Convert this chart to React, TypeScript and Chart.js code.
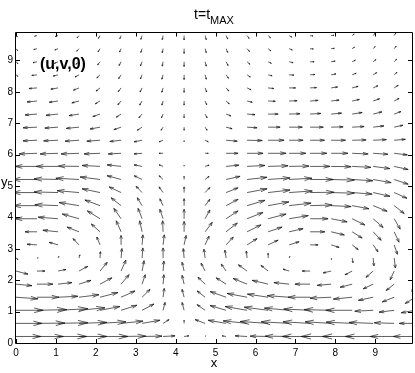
import React, { useEffect, useRef } from "react";
import { Chart, registerables } from "chart.js";

Chart.register(...registerables);

const xs = [0, 0.526, 1.053, 1.579, 2.105, 2.632, 3.158, 3.684, 4.211, 4.737, 5.263, 5.789, 6.316, 6.842, 7.368, 7.895, 8.421, 8.947, 9.474, 10];
const ys = [0.208, 0.625, 1.042, 1.458, 1.875, 2.292, 2.708, 3.125, 3.542, 3.958, 4.375, 4.792, 5.208, 5.625, 6.042, 6.458, 6.875, 7.292, 7.708, 8.125, 8.542, 8.958, 9.375, 9.792];
const xTicks = [0, 1, 2, 3, 4, 5, 6, 7, 8, 9];
const yTicks = [0, 1, 2, 3, 4, 5, 6, 7, 8, 9];

// u components, one row per y level (bottom to top)
const uRows = [
  [0.62, 0.66, 0.72, 0.70, 0.70, 0.62, 0.50, 0.30, 0.12, 0.02, -0.10, -0.30, -0.45, -0.60, -0.70, -0.75, -0.75, -0.70, -0.60, -0.55],
  [0.65, 0.70, 0.75, 0.70, 0.65, 0.55, 0.45, 0.15, 0.0, -0.25, -0.45, -0.60, -0.70, -0.70, -0.68, -0.65, -0.65, -0.60, -0.50, -0.40],
  [0.68, 0.75, 0.75, 0.65, 0.50, 0.40, 0.30, 0.05, -0.05, -0.20, -0.40, -0.55, -0.60, -0.62, -0.66, -0.68, -0.66, -0.46, -0.38, -0.35],
  [0.55, 0.55, 0.50, 0.50, 0.45, 0.35, 0.20, 0.03, -0.05, -0.20, -0.40, -0.50, -0.52, -0.55, -0.55, -0.53, -0.47, -0.37, -0.30, -0.25],
  [0.40, 0.40, 0.35, 0.30, 0.30, 0.20, 0.08, 0.02, -0.05, -0.18, -0.25, -0.35, -0.40, -0.38, -0.38, -0.35, -0.30, -0.25, -0.20, -0.08],
  [0.30, 0.20, 0.20, 0.22, 0.18, 0.12, 0.05, 0.02, -0.05, -0.10, -0.12, -0.22, -0.18, -0.15, -0.20, -0.20, -0.18, -0.18, -0.10, -0.03],
  [0.05, 0.03, 0.02, 0.02, 0.01, 0.02, 0.02, 0.0, -0.02, -0.03, -0.03, -0.02, 0.0, 0.02, 0.0, 0.01, 0.02, 0.02, 0.03, 0.05],
  [-0.15, -0.25, -0.22, -0.15, -0.08, 0.0, 0.02, 0.03, 0.05, 0.10, 0.18, 0.25, 0.25, 0.25, 0.20, 0.20, 0.15, 0.12, 0.08, 0.05],
  [-0.25, -0.30, -0.38, -0.30, -0.22, -0.12, -0.06, -0.01, 0.0, 0.18, 0.28, 0.35, 0.35, 0.35, 0.37, 0.33, 0.25, 0.20, 0.12, 0.08],
  [-0.35, -0.55, -0.50, -0.42, -0.32, -0.18, -0.10, -0.08, 0.0, 0.12, 0.30, 0.40, 0.45, 0.48, 0.45, 0.40, 0.32, 0.25, 0.15, 0.10],
  [-0.50, -0.60, -0.58, -0.50, -0.38, -0.25, -0.12, -0.08, 0.0, 0.12, 0.30, 0.45, 0.52, 0.55, 0.55, 0.50, 0.42, 0.35, 0.25, 0.18],
  [-0.60, -0.62, -0.60, -0.55, -0.45, -0.30, -0.15, -0.10, 0.0, 0.12, 0.30, 0.50, 0.55, 0.58, 0.60, 0.58, 0.50, 0.42, 0.32, 0.25],
  [-0.60, -0.62, -0.60, -0.58, -0.50, -0.35, -0.20, -0.10, 0.0, 0.10, 0.35, 0.50, 0.55, 0.57, 0.58, 0.58, 0.52, 0.45, 0.35, 0.28],
  [-0.50, -0.55, -0.55, -0.52, -0.45, -0.35, -0.20, -0.10, 0.0, 0.10, 0.32, 0.45, 0.50, 0.50, 0.50, 0.50, 0.47, 0.42, 0.35, 0.30],
  [-0.40, -0.45, -0.45, -0.45, -0.40, -0.32, -0.20, -0.10, 0.0, 0.08, 0.30, 0.40, 0.45, 0.42, 0.42, 0.42, 0.40, 0.37, 0.33, 0.30],
  [-0.30, -0.35, -0.36, -0.35, -0.33, -0.28, -0.20, -0.10, 0.0, 0.08, 0.28, 0.38, 0.40, 0.35, 0.36, 0.36, 0.35, 0.33, 0.28, 0.22],
  [-0.25, -0.35, -0.33, -0.32, -0.25, -0.18, -0.12, -0.05, 0.0, 0.05, 0.15, 0.25, 0.30, 0.33, 0.33, 0.30, 0.30, 0.27, 0.22, 0.20],
  [-0.20, -0.30, -0.30, -0.25, -0.18, -0.12, -0.08, -0.04, 0.0, 0.05, 0.12, 0.20, 0.25, 0.27, 0.27, 0.26, 0.25, 0.22, 0.17, 0.15],
  [-0.15, -0.25, -0.22, -0.18, -0.12, -0.08, -0.06, -0.03, 0.0, 0.04, 0.08, 0.13, 0.18, 0.20, 0.20, 0.20, 0.18, 0.16, 0.12, 0.10],
  [-0.10, -0.20, -0.18, -0.14, -0.10, -0.07, -0.05, -0.03, 0.0, 0.04, 0.07, 0.10, 0.14, 0.16, 0.16, 0.16, 0.15, 0.12, 0.10, 0.08],
  [0.05, -0.13, -0.12, -0.10, -0.08, -0.06, -0.04, -0.03, 0.0, 0.03, 0.06, 0.08, 0.10, 0.12, 0.12, 0.12, 0.10, 0.09, 0.07, 0.06],
  [0.05, -0.10, -0.09, -0.08, -0.06, -0.05, -0.04, -0.02, 0.0, 0.03, 0.05, 0.07, 0.08, 0.10, 0.10, 0.10, 0.08, 0.07, 0.06, 0.05],
  [0.04, -0.08, -0.08, -0.06, -0.05, -0.04, -0.03, -0.02, 0.0, 0.03, 0.04, 0.06, 0.07, 0.08, 0.08, 0.08, 0.06, 0.05, 0.05, 0.04],
  [0.04, -0.06, -0.07, -0.05, -0.04, -0.03, -0.03, -0.02, 0.0, 0.03, 0.04, 0.05, 0.06, 0.07, 0.07, 0.07, 0.05, 0.05, 0.04, 0.04],
];

// v components, one row per y level (bottom to top)
const vRows = [
  [0, 0, 0, 0, 0, 0.01, 0.01, 0.02, 0.02, 0.02, 0.02, 0.02, 0.01, 0.01, 0, 0, 0, 0, 0, 0],
  [0, 0.01, 0.02, 0.03, 0.05, 0.07, 0.10, 0.12, 0.10, 0.12, 0.10, 0.08, 0.06, 0.05, 0.05, 0.05, 0.04, 0.03, 0.02, 0],
  [0, 0.02, 0.05, 0.08, 0.12, 0.16, 0.20, 0.25, 0.25, 0.18, 0.15, 0.12, 0.10, 0.07, 0.04, 0.02, 0, -0.03, -0.06, -0.08],
  [-0.05, 0, 0.03, 0.08, 0.15, 0.20, 0.25, 0.28, 0.25, 0.20, 0.18, 0.12, 0.10, 0.05, 0, -0.03, -0.06, -0.10, -0.15, -0.20],
  [-0.05, 0, 0.05, 0.12, 0.20, 0.30, 0.30, 0.30, 0.28, 0.22, 0.20, 0.18, 0.12, 0.05, 0, -0.04, -0.10, -0.15, -0.20, -0.25],
  [-0.10, 0, 0.05, 0.15, 0.28, 0.35, 0.33, 0.32, 0.28, 0.25, 0.22, 0.20, 0.18, 0.06, 0, -0.06, -0.12, -0.20, -0.28, -0.30],
  [-0.05, 0.0, 0.05, 0.10, 0.20, 0.30, 0.32, 0.32, 0.30, 0.28, 0.25, 0.22, 0.15, 0.05, 0.0, -0.05, -0.15, -0.25, -0.32, -0.35],
  [-0.10, 0.02, 0.08, 0.20, 0.25, 0.30, 0.32, 0.32, 0.30, 0.28, 0.25, 0.20, 0.15, 0.10, 0.0, -0.08, -0.15, -0.22, -0.30, -0.30],
  [-0.05, 0.0, 0.05, 0.15, 0.25, 0.35, 0.35, 0.35, 0.33, 0.30, 0.28, 0.22, 0.15, 0.10, 0.0, -0.10, -0.20, -0.27, -0.33, -0.35],
  [-0.05, 0.0, 0.05, 0.15, 0.25, 0.33, 0.33, 0.30, 0.30, 0.28, 0.25, 0.20, 0.15, 0.10, 0.0, -0.10, -0.20, -0.28, -0.33, -0.35],
  [0, 0, 0.03, 0.10, 0.18, 0.25, 0.25, 0.22, 0.22, 0.20, 0.20, 0.17, 0.12, 0.08, 0.02, -0.03, -0.10, -0.18, -0.25, -0.28],
  [0, 0, 0.02, 0.06, 0.12, 0.18, 0.20, 0.18, 0.18, 0.16, 0.15, 0.12, 0.08, 0.05, 0.01, -0.02, -0.05, -0.12, -0.18, -0.20],
  [0, 0, 0.02, 0.04, 0.08, 0.12, 0.12, 0.12, 0.10, 0.10, 0.10, 0.07, 0.05, 0.04, 0, -0.02, -0.04, -0.10, -0.15, -0.17],
  [0, 0, 0, 0.01, 0.03, 0.05, 0.05, 0.05, 0.04, 0.04, 0.04, 0.03, 0.02, 0.01, 0, -0.01, -0.03, -0.07, -0.10, -0.10],
  [-0.02, -0.02, -0.02, -0.02, -0.02, -0.02, -0.02, 0, 0, 0, 0, 0, 0, 0, 0, 0, -0.02, -0.03, -0.05, -0.05],
  [-0.02, -0.02, -0.02, -0.03, -0.03, -0.04, -0.05, -0.05, -0.05, -0.05, -0.03, -0.01, 0, 0, 0, 0, 0.01, 0.02, 0.03, 0.04],
  [-0.02, -0.02, -0.03, -0.04, -0.06, -0.08, -0.10, -0.10, -0.10, -0.10, -0.05, -0.02, 0, 0, 0, 0.01, 0.02, 0.04, 0.06, 0.07],
  [-0.02, -0.03, -0.04, -0.05, -0.08, -0.10, -0.12, -0.12, -0.12, -0.12, -0.06, -0.02, 0, 0.01, 0.02, 0.03, 0.05, 0.07, 0.08, 0.08],
  [-0.02, -0.03, -0.04, -0.06, -0.09, -0.12, -0.13, -0.13, -0.13, -0.12, -0.09, -0.04, -0.01, 0.01, 0.02, 0.03, 0.05, 0.07, 0.08, 0.08],
  [-0.02, -0.02, -0.04, -0.07, -0.10, -0.12, -0.13, -0.14, -0.14, -0.13, -0.10, -0.06, -0.02, 0, 0.01, 0.03, 0.05, 0.07, 0.08, 0.08],
  [-0.05, -0.02, -0.04, -0.07, -0.10, -0.12, -0.13, -0.14, -0.15, -0.14, -0.11, -0.07, -0.03, -0.01, 0.01, 0.03, 0.05, 0.07, 0.08, 0.08],
  [-0.06, -0.03, -0.05, -0.08, -0.10, -0.12, -0.13, -0.14, -0.15, -0.14, -0.12, -0.08, -0.05, -0.03, 0, 0.02, 0.05, 0.07, 0.08, 0.08],
  [-0.06, -0.03, -0.04, -0.08, -0.10, -0.11, -0.12, -0.13, -0.15, -0.13, -0.12, -0.09, -0.07, -0.04, -0.01, 0.01, 0.05, 0.07, 0.08, 0.08],
  [-0.04, -0.02, -0.03, -0.07, -0.09, -0.10, -0.12, -0.13, -0.14, -0.13, -0.11, -0.09, -0.07, -0.05, -0.01, 0.01, 0.05, 0.07, 0.08, 0.08],
];

const FONT = "'Liberation Sans', Arial, Helvetica, sans-serif";

const quiverPlugin = {
  id: "quiver",
  afterDatasetsDraw(chart: any) {
    const { ctx, chartArea, scales } = chart;
    const sx = scales.x;
    const sy = scales.y;
    const px = (v: number) => sx.getPixelForValue(v);
    const py = (v: number) => sy.getPixelForValue(v);
    ctx.save();
    ctx.beginPath();
    ctx.rect(chartArea.left, chartArea.top, chartArea.right - chartArea.left, chartArea.bottom - chartArea.top);
    ctx.clip();
    ctx.strokeStyle = "#1a1a1a";
    ctx.lineWidth = 0.7;
    ctx.lineCap = "butt";
    ctx.lineJoin = "miter";
    const a = 0.33;
    const b = 0.33;
    for (let k = 0; k < ys.length; k++) {
      for (let j = 0; j < xs.length; j++) {
        const x0 = xs[j];
        const y0 = ys[k];
        const u = uRows[k][j];
        const v = vRows[k][j];
        if (u === 0 && v === 0) continue;
        const x1 = x0 + u;
        const y1 = y0 + v;
        const hx1 = x1 - a * (u + b * v);
        const hy1 = y1 - a * (v - b * u);
        const hx2 = x1 - a * (u - b * v);
        const hy2 = y1 - a * (v + b * u);
        ctx.beginPath();
        ctx.moveTo(px(x0), py(y0));
        ctx.lineTo(px(x1), py(y1));
        ctx.moveTo(px(hx1), py(hy1));
        ctx.lineTo(px(x1), py(y1));
        ctx.lineTo(px(hx2), py(hy2));
        ctx.stroke();
      }
    }
    ctx.restore();
  },
  afterDraw(chart: any) {
    const { ctx, chartArea, scales } = chart;
    const { left, right, top, bottom } = chartArea;
    ctx.save();
    ctx.strokeStyle = "#000";
    ctx.lineWidth = 1;
    ctx.beginPath();
    ctx.rect(Math.round(left) - 0.5, Math.round(top) - 0.5, Math.round(right) - Math.round(left) + 1, Math.round(bottom) - Math.round(top) + 1);
    ctx.stroke();
    const tl = 4;
    ctx.beginPath();
    for (const t of xTicks) {
      const p = Math.round(scales.x.getPixelForValue(t)) + 0.5;
      ctx.moveTo(p, bottom);
      ctx.lineTo(p, bottom - tl);
      ctx.moveTo(p, top);
      ctx.lineTo(p, top + tl);
    }
    for (const t of yTicks) {
      const p = Math.round(scales.y.getPixelForValue(t)) + 0.5;
      ctx.moveTo(left, p);
      ctx.lineTo(left + tl, p);
      ctx.moveTo(right, p);
      ctx.lineTo(right - tl, p);
    }
    ctx.stroke();
    ctx.fillStyle = "#000";
    ctx.textBaseline = "alphabetic";
    ctx.textAlign = "left";
    const mainFont = `14px ${FONT}`;
    const subFont = `11px ${FONT}`;
    ctx.font = mainFont;
    const w1 = ctx.measureText("t=t").width;
    ctx.font = subFont;
    const w2 = ctx.measureText("MAX").width;
    const cx = (left + right) / 2;
    const startX = cx - (w1 + w2) / 2;
    ctx.font = mainFont;
    ctx.fillText("t=t", startX, 19);
    ctx.font = subFont;
    ctx.fillText("MAX", startX + w1, 24);
    ctx.font = `13px ${FONT}`;
    ctx.textAlign = "center";
    ctx.fillText("x", cx, 367);
    ctx.textAlign = "left";
    ctx.fillText("y", 1, 186);
    ctx.font = `bold 16px ${FONT}`;
    ctx.fillText("(u,v,0)", 40, 69);
    ctx.restore();
  },
};

export default function App() {
  const ref = useRef<HTMLCanvasElement | null>(null);
  useEffect(() => {
    if (!ref.current) return;
    const points: { x: number; y: number }[] = [];
    for (const y of ys) for (const x of xs) points.push({ x, y });
    const chart = new Chart(ref.current, {
      type: "scatter",
      data: {
        datasets: [
          {
            data: points,
            pointRadius: 0,
            pointHoverRadius: 0,
            showLine: false,
          },
        ],
      },
      options: {
        responsive: false,
        animation: false,
        events: [],
        layout: { padding: { left: 0, right: 3, top: 32.5, bottom: 0 } },
        plugins: { legend: { display: false }, tooltip: { enabled: false }, title: { display: false } },
        scales: {
          x: {
            type: "linear",
            min: 0,
            max: 9.92,
            grid: { display: false, drawTicks: false },
            border: { display: false },
            afterBuildTicks: (s: any) => {
              s.ticks = xTicks.map((v) => ({ value: v }));
            },
            afterFit: (s: any) => {
              s.height = 30;
            },
            ticks: {
              color: "#000",
              padding: 4,
              maxRotation: 0,
              autoSkip: false,
              font: { family: FONT, size: 10 },
              callback: (v: any) => String(v),
            },
          },
          y: {
            type: "linear",
            min: 0,
            max: 9.89,
            grid: { display: false, drawTicks: false },
            border: { display: false },
            afterBuildTicks: (s: any) => {
              s.ticks = yTicks.map((v) => ({ value: v }));
            },
            afterFit: (s: any) => {
              s.width = 16;
            },
            ticks: {
              color: "#000",
              padding: 3,
              autoSkip: false,
              font: { family: FONT, size: 10 },
              callback: (v: any) => String(v),
            },
          },
        },
      },
      plugins: [quiverPlugin],
    });
    return () => chart.destroy();
  }, []);
  return (
    <div style={{ position: "fixed", left: 0, top: 0, width: 415, height: 373, background: "#fff" }}>
      <canvas ref={ref} width={415} height={373} style={{ width: 415, height: 373, display: "block" }} />
    </div>
  );
}
